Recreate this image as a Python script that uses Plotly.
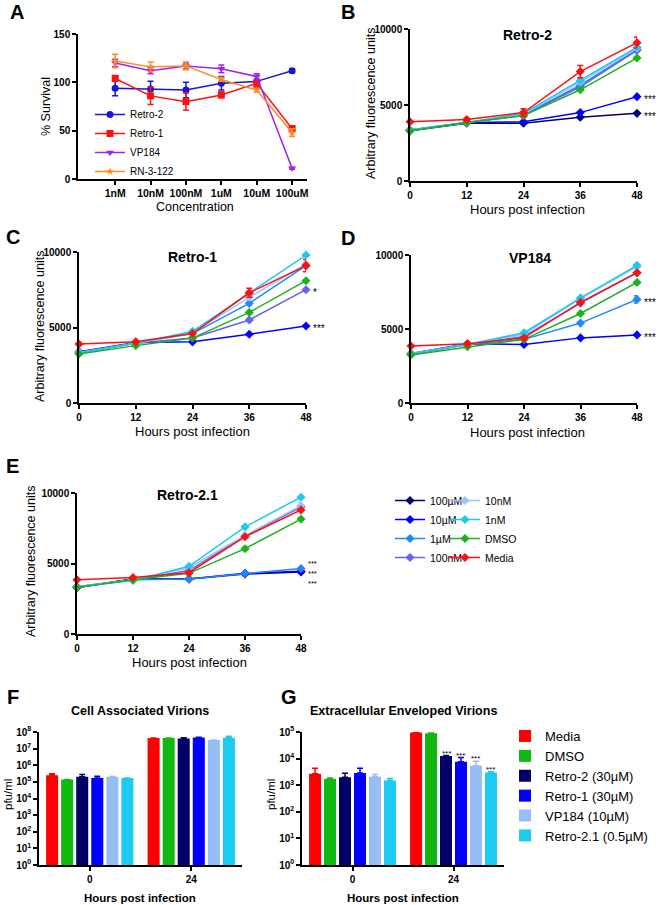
import math
import plotly.graph_objects as go

W, H = 660, 905
FONT = "Liberation Sans, Arial, sans-serif"

# ---------------- data ----------------
CONC = ["1nM", "10nM", "100nM", "1uM", "10uM", "100uM"]
A_RETRO2 = [94, 93, 92, 99, 101, 112]
A_RETRO2_ERR = [8, 8, 8, 7, 6, 2]
A_RETRO1 = [104, 86, 80, 87, 99, 52]
A_RETRO1_ERR = [3, 9, 9, 3, 4, 3]
A_VP184 = [120, 112, 117, 114, 106, 11]
A_VP184_ERR = [4, 3, 3, 4, 3, 1]
A_RN3122 = [122, 116, 117, 103, 92, 48]
A_RN3122_ERR = [7, 5, 4, 2, 2, 4]

TIME = [0, 12, 24, 36, 48]
FL_TICKS = [0, 5000, 10000]
SERIES = ["100µM", "10µM", "1µM", "100nM", "10nM", "1nM", "DMSO", "Media"]

RETRO2 = {
    "100µM": [3300, 3800, 3800, 4200, 4450],
    "10µM": [3350, 3850, 3900, 4500, 5550],
    "1µM": [3350, 3850, 4350, 6300, 8650],
    "100nM": [3300, 3850, 4300, 6200, 8600],
    "10nM": [3350, 3850, 4400, 6500, 8750],
    "1nM": [3350, 3850, 4450, 6600, 8800],
    "DMSO": [3300, 3850, 4300, 6000, 8100],
    "Media": [3900, 4050, 4500, 7200, 9100],
}
RETRO2_ERR = {"Media": [0, 80, 250, 400, 350], "1µM": [0, 0, 0, 300, 200]}

RETRO1 = {
    "10µM": [3400, 4000, 4050, 4550, 5100],
    "1µM": [3350, 4000, 4600, 6600, 9100],
    "100nM": [3300, 3950, 4300, 5500, 7500],
    "10nM": [3350, 3950, 4650, 7000, 9200],
    "1nM": [3350, 3950, 4750, 7250, 9800],
    "DMSO": [3250, 3800, 4300, 6000, 8100],
    "Media": [3900, 4050, 4600, 7300, 9100],
}
RETRO1_ERR = {"Media": [0, 0, 0, 300, 400]}

VP184 = {
    "10µM": [3350, 4000, 3950, 4400, 4600],
    "1µM": [3300, 3950, 4300, 5400, 7000],
    "100nM": [3300, 3950, 4500, 6750, 8800],
    "10nM": [3350, 3950, 4650, 7050, 9200],
    "1nM": [3350, 3950, 4750, 7100, 9300],
    "DMSO": [3250, 3800, 4300, 6050, 8150],
    "Media": [3850, 4000, 4400, 6800, 8800],
}
VP184_ERR = {"1µM": [0, 0, 0, 0, 250]}

RETRO21 = {
    "100µM": [3300, 3900, 3900, 4250, 4400],
    "10µM": [3300, 3900, 3900, 4300, 4450],
    "1µM": [3350, 3850, 3900, 4300, 4650],
    "100nM": [3350, 3850, 4500, 6950, 9000],
    "10nM": [3350, 3850, 4700, 7000, 9100],
    "1nM": [3350, 3800, 4800, 7600, 9700],
    "DMSO": [3300, 3850, 4300, 6050, 8150],
    "Media": [3850, 4000, 4350, 6900, 8800],
}
RETRO21_ERR = {"10nM": [0, 0, 0, 0, 200]}

HOURS = ["0", "24"]
TREATMENTS = ["Media", "DMSO", "Retro-2 (30µM)", "Retro-1 (30µM)", "VP184 (10µM)", "Retro-2.1 (0.5µM)"]
F_VALUES = [[2.5e5, 4.3e7], [1.4e5, 4.3e7], [2.0e5, 4.0e7], [1.7e5, 4.6e7], [2.0e5, 3.3e7], [1.7e5, 4.5e7]]
F_ERR = [[0.6e5, 0], [0, 0], [0.8e5, 0.5e7], [0.5e5, 0.2e7], [0.1e5, 0], [0, 1.0e7]]
G_VALUES = [[2.7e3, 9.6e4], [1.75e3, 9.0e4], [2.0e3, 1.25e4], [2.9e3, 7.6e3], [2.1e3, 5.4e3], [1.5e3, 3.0e3]]
G_ERR = [[1.6e3, 0], [0.1e3, 2e3], [0.8e3, 0.05e4], [1.4e3, 3.4e3], [0.4e3, 2.5e3], [0.3e3, 0.2e3]]

LINE_COLORS = {
    "100µM": "#000070", "10µM": "#0000FF", "1µM": "#1E88FF", "100nM": "#6464EC",
    "10nM": "#9CC4F6", "1nM": "#1EC8F2", "DMSO": "#1DB21D", "Media": "#FF1010",
}
BAR_COLORS = ["#FF0000", "#12B812", "#000066", "#0000FF", "#96BEF4", "#1CCBF0"]

# ---------------- layout helpers ----------------
def xd(p0, p1):
    return [p0 / W, p1 / W]

def yd(top, bottom):
    return [1 - bottom / H, 1 - top / H]

def axis_style(**kw):
    d = dict(showline=True, linecolor="black", linewidth=1.5, ticks="outside",
             ticklen=4, tickwidth=1.5, tickcolor="black", showgrid=False, zeroline=False,
             automargin=False,
             tickfont=dict(family=FONT, size=10, color="black", weight="bold"))
    d.update(kw)
    return d

fig = go.Figure()

# ---------------- Panel A ----------------
a_specs = [
    ("Retro-2", A_RETRO2, A_RETRO2_ERR, "#1515E0", "circle", 7),
    ("Retro-1", A_RETRO1, A_RETRO1_ERR, "#FF1010", "square", 7),
    ("VP184", A_VP184, A_VP184_ERR, "#A024F0", "triangle-down", 7),
    ("RN-3-122", A_RN3122, A_RN3122_ERR, "#FF8A1E", "star", 6),
]
for name, vals, err, col, sym, sz in a_specs:
    fig.add_trace(go.Scatter(
        x=CONC, y=vals, name=name, mode="lines+markers",
        line=dict(color=col, width=1.5), marker=dict(color=col, symbol=sym, size=sz),
        error_y=dict(type="data", array=err, color=col, thickness=1.5, width=3),
        xaxis="x", yaxis="y", legend="legend3", cliponaxis=False))

# ---------------- Panels B-E ----------------
panels = [
    (RETRO2, RETRO2_ERR, "2", False),
    (RETRO1, RETRO1_ERR, "3", False),
    (VP184, VP184_ERR, "4", False),
    (RETRO21, RETRO21_ERR, "5", True),
]
for data, errs, ax, show in panels:
    for s in SERIES:
        if s not in data:
            continue
        col = LINE_COLORS[s]
        e = errs.get(s)
        tr = go.Scatter(
            x=TIME, y=data[s], name=s, mode="lines+markers",
            line=dict(color=col, width=1.5), marker=dict(color=col, symbol="diamond", size=7),
            xaxis="x" + ax, yaxis="y" + ax, cliponaxis=False, showlegend=show,
            legend="legend" if SERIES.index(s) < 4 else "legend4")
        if e:
            tr.error_y = dict(type="data", array=e, color=col, thickness=1.5, width=3)
        fig.add_trace(tr)

# ---------------- Panels F, G ----------------
for i, t in enumerate(TREATMENTS):
    fig.add_trace(go.Bar(
        x=HOURS, y=F_VALUES[i], name=t, marker=dict(color=BAR_COLORS[i], line=dict(width=0)),
        error_y=dict(type="data", array=F_ERR[i], arrayminus=[0, 0], symmetric=False,
                     color=BAR_COLORS[i], thickness=1.5, width=3),
        xaxis="x6", yaxis="y6", showlegend=False, offsetgroup=str(i)))
for i, t in enumerate(TREATMENTS):
    fig.add_trace(go.Bar(
        x=HOURS, y=G_VALUES[i], name=t, marker=dict(color=BAR_COLORS[i], line=dict(width=0)),
        error_y=dict(type="data", array=G_ERR[i], arrayminus=[0, 0], symmetric=False,
                     color=BAR_COLORS[i], thickness=1.5, width=3),
        xaxis="x7", yaxis="y7", legend="legend2", offsetgroup=str(i)))

# ---------------- axes ----------------
ts_x = dict(range=[0, 48], tickvals=TIME)
ts_y = dict(range=[0, 10000], tickvals=FL_TICKS, ticktext=[str(v) for v in FL_TICKS])
log_f = dict(type="log", range=[0, 8], tickvals=[10 ** k for k in range(9)],
             ticktext=["10<sup>%d</sup>" % k for k in range(9)])
log_g = dict(type="log", range=[0, 5], tickvals=[10 ** k for k in range(6)],
             ticktext=["10<sup>%d</sup>" % k for k in range(6)])

layout = dict(
    width=W, height=H, margin=dict(l=0, r=0, t=0, b=0, autoexpand=False),
    paper_bgcolor="white", plot_bgcolor="white",
    font=dict(family=FONT, color="black"),
    barmode="group", bargap=0.11, bargroupgap=0.2,
    xaxis=axis_style(domain=xd(78, 307), type="category", range=[-1.05, 5.42], anchor="y",
                     tickfont=dict(family=FONT, size=10.5, color="black", weight="bold")),
    yaxis=axis_style(domain=yd(34, 179), range=[0, 150], tickvals=[0, 50, 100, 150], anchor="x"),
    xaxis2=axis_style(domain=xd(410, 637), anchor="y2", **ts_x),
    yaxis2=axis_style(domain=yd(29, 181), anchor="x2", **ts_y),
    xaxis3=axis_style(domain=xd(79, 306), anchor="y3", **ts_x),
    yaxis3=axis_style(domain=yd(252, 403), anchor="x3", **ts_y),
    xaxis4=axis_style(domain=xd(411, 637), anchor="y4", **ts_x),
    yaxis4=axis_style(domain=yd(255, 403), anchor="x4", **ts_y),
    xaxis5=axis_style(domain=xd(77, 301), anchor="y5", **ts_x),
    yaxis5=axis_style(domain=yd(493, 634), anchor="x5", **ts_y),
    xaxis6=axis_style(domain=xd(39, 242), anchor="y6", type="category", range=[-0.5, 1.5]),
    yaxis6=axis_style(domain=yd(732, 865), anchor="x6", **log_f),
    xaxis7=axis_style(domain=xd(302, 504), anchor="y7", type="category", range=[-0.5, 1.5]),
    yaxis7=axis_style(domain=yd(732, 865), anchor="x7", **log_g),
    legend=dict(x=390 / W, y=1 - 486 / H, xanchor="left", yanchor="top",
                font=dict(family=FONT, size=10.5), bgcolor="rgba(0,0,0,0)", itemwidth=30),
    legend4=dict(x=445 / W, y=1 - 486 / H, xanchor="left", yanchor="top",
                 font=dict(family=FONT, size=10.5), bgcolor="rgba(0,0,0,0)", itemwidth=30),
    legend2=dict(x=505 / W, y=1 - 721 / H, xanchor="left", yanchor="top",
                 font=dict(family=FONT, size=13), bgcolor="rgba(0,0,0,0)", itemwidth=30),
    legend3=dict(x=90 / W, y=1 - 100 / H, xanchor="left", yanchor="top",
                 font=dict(family=FONT, size=10), bgcolor="rgba(0,0,0,0)", itemwidth=30),
    showlegend=True,
)
fig.update_layout(**layout)

# ---------------- annotations ----------------
ann = []

def paper_text(text, px, py, size, bold=False, angle=0, xanchor="center", yanchor="middle"):
    ann.append(dict(text=("<b>%s</b>" % text) if bold else text, x=px / W, y=1 - py / H,
                    xref="paper", yref="paper", showarrow=False, textangle=angle,
                    xanchor=xanchor, yanchor=yanchor,
                    font=dict(family=FONT, size=size, color="black")))

# panel letters
for letter, px, py in [("A", 17, 12), ("B", 348, 12), ("C", 13, 237), ("D", 348, 238),
                       ("E", 13, 466), ("F", 13, 697), ("G", 289, 697)]:
    paper_text(letter, px, py, 20, bold=True)

# titles
paper_text("Retro-2", 527, 35, 14, bold=True)
paper_text("Retro-1", 192, 257, 14, bold=True)
paper_text("VP184", 530, 258, 14, bold=True)
paper_text("Retro-2.1", 187, 495, 14, bold=True)
paper_text("Cell Associated Virions", 140, 711, 12.5, bold=True)
paper_text("Extracellular Enveloped Virions", 403, 711, 12.5, bold=True)

# axis titles
paper_text("% Survival", 46, 107, 12.5, angle=-90)
paper_text("Concentration", 195, 207, 12.5)
paper_text("Arbitrary fluorescence units", 371, 104, 12.5, angle=-90)
paper_text("Arbitrary fluorescence units", 40, 327, 12.5, angle=-90)
paper_text("Arbitrary fluorescence units", 31, 562, 12.5, angle=-90)
for cx, cy in [(527, 209), (192, 432), (527, 433), (189, 662)]:
    paper_text("Hours post infection", cx, cy, 13)
paper_text("pfu/ml", 8, 795, 11.5, angle=-90)
paper_text("pfu/ml", 271, 795, 11.5, angle=-90)
paper_text("Hours post infection", 140, 898, 11.5, bold=True)
paper_text("Hours post infection", 403, 898, 11.5, bold=True)

# significance stars next to line ends
def star(ax, yval, txt, yshift=-3, size=10):
    ann.append(dict(text=txt, x=48, y=yval, xref="x" + ax, yref="y" + ax, showarrow=False,
                    xanchor="left", yanchor="middle", xshift=5, yshift=yshift,
                    font=dict(family=FONT, size=size, color="black")))

star("2", RETRO2["10µM"][-1], "***")
star("2", RETRO2["100µM"][-1], "***")
star("3", RETRO1["100nM"][-1], "*")
star("3", RETRO1["10µM"][-1], "***")
star("4", VP184["1µM"][-1], "***")
star("4", VP184["10µM"][-1], "***")
star("5", RETRO21["10µM"][-1], "***<br>***<br>***", yshift=-2, size=7.5)

# significance stars over bars in G (24 h group, category index 1)
bar_step = 101 * (1 - 0.11) / 6
for i in range(2, 6):
    top = G_VALUES[i][1] + G_ERR[i][1]
    ann.append(dict(text="***", x=1, y=math.log10(top), xref="x7", yref="y7", showarrow=False,
                    xanchor="center", yanchor="bottom", xshift=(i - 2.5) * bar_step, yshift=-4,
                    font=dict(family=FONT, size=8, color="black")))

fig.update_layout(annotations=ann)

PIN = ("document.documentElement.style.margin='0';document.body.style.margin='0';"
       "document.documentElement.style.overflow='hidden';document.body.style.overflow='hidden';")
fig.write_html("out.html", config={"displayModeBar": False}, post_script=PIN)
